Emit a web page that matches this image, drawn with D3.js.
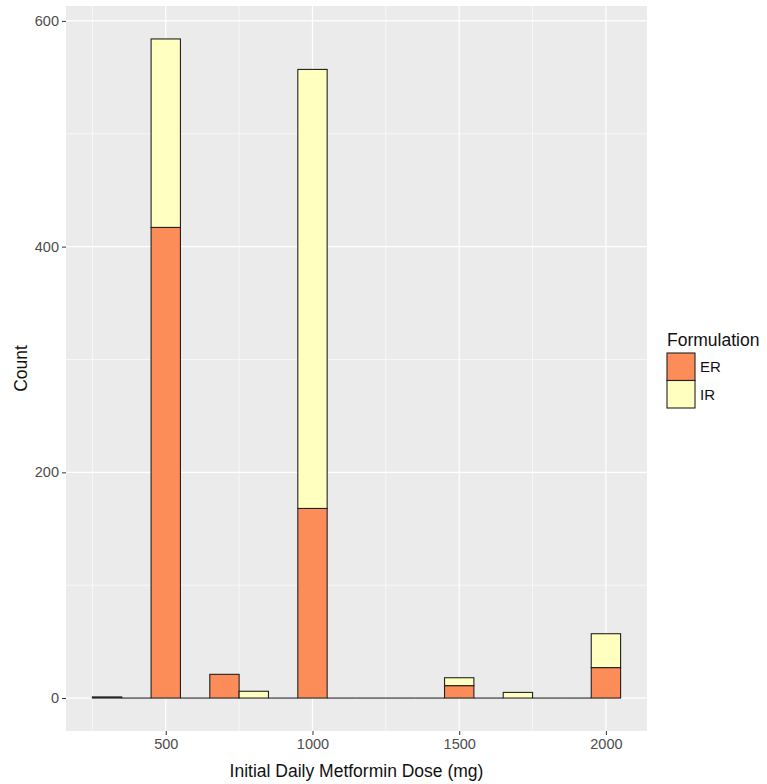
<!DOCTYPE html>
<html>
<head>
<meta charset="utf-8">
<script src="https://cdn.jsdelivr.net/npm/d3@7"></script>
<style>
  body { margin: 0; background: #fff; }
  svg { display: block; font-family: "Liberation Sans", Arial, sans-serif; }
</style>
</head>
<body>
<svg id="svg" width="767" height="784"></svg>
<script>
// histogram bins (binwidth 100 mg), counts per formulation
const binCenters = [300, 400, 500, 600, 700, 800, 900, 1000, 1100, 1200, 1300, 1400, 1500, 1600, 1700, 1800, 1900, 2000];
const erCounts   = [1, 0, 417, 0, 21, 0, 0, 168, 0, 0, 0, 0, 11, 0, 0, 0, 0, 27];
const irCounts   = [0, 0, 167, 0, 0, 6, 0, 389, 0, 0, 0, 0, 7, 0, 5, 0, 0, 30];
const formulations = ['ER', 'IR'];
const fillColors = ['#fc8d59', '#ffffbf'];
const xTicks = [500, 1000, 1500, 2000];
const xMinor = [250, 750, 1250, 1750];
const yTicks = [0, 200, 400, 600];
const yMinor = [100, 300, 500];
const binWidth = 100;

const W = 767, H = 784;
const panel = {left: 66, right: 647, top: 6, bottom: 731};

const rows = binCenters.map((c, i) => ({center: c, ER: erCounts[i], IR: irCounts[i]}));
const series = d3.stack().keys(formulations)(rows);

const xLo = binCenters[0] - binWidth / 2, xHi = binCenters[binCenters.length - 1] + binWidth / 2;
const xPad = (xHi - xLo) * 0.05;
const yMax = d3.max(rows, d => d.ER + d.IR);
const yPad = yMax * 0.05;

const x = d3.scaleLinear().domain([xLo - xPad, xHi + xPad]).range([panel.left, panel.right]);
const y = d3.scaleLinear().domain([-yPad, yMax + yPad]).range([panel.bottom, panel.top]);
const color = d3.scaleOrdinal().domain(formulations).range(fillColors);

const svg = d3.select('#svg');

// panel background + grid
svg.append('rect')
  .attr('x', panel.left).attr('y', panel.top)
  .attr('width', panel.right - panel.left).attr('height', panel.bottom - panel.top)
  .attr('fill', '#ebebeb');

const grid = svg.append('g');
grid.selectAll('.xminor').data(xMinor).enter().append('line')
  .attr('x1', d => x(d)).attr('x2', d => x(d))
  .attr('y1', panel.top).attr('y2', panel.bottom)
  .attr('stroke', '#fff').attr('stroke-width', 0.6);
grid.selectAll('.yminor').data(yMinor).enter().append('line')
  .attr('y1', d => y(d)).attr('y2', d => y(d))
  .attr('x1', panel.left).attr('x2', panel.right)
  .attr('stroke', '#fff').attr('stroke-width', 0.6);
grid.selectAll('.xmajor').data(xTicks).enter().append('line')
  .attr('x1', d => x(d)).attr('x2', d => x(d))
  .attr('y1', panel.top).attr('y2', panel.bottom)
  .attr('stroke', '#fff').attr('stroke-width', 1.2);
grid.selectAll('.ymajor').data(yTicks).enter().append('line')
  .attr('y1', d => y(d)).attr('y2', d => y(d))
  .attr('x1', panel.left).attr('x2', panel.right)
  .attr('stroke', '#fff').attr('stroke-width', 1.2);

// empty bins are drawn as flat outlines at zero (like ggplot)
svg.append('g').selectAll('line')
  .data(rows.filter(d => d.ER + d.IR === 0))
  .enter().append('line')
  .attr('x1', d => x(d.center - binWidth / 2)).attr('x2', d => x(d.center + binWidth / 2))
  .attr('y1', y(0)).attr('y2', y(0))
  .attr('stroke', '#222').attr('stroke-width', 1.1);

// stacked bars
svg.append('g').selectAll('g')
  .data(series)
  .enter().append('g')
  .attr('fill', d => color(d.key))
  .selectAll('rect')
  .data(d => d.filter(s => s[1] > s[0]))
  .enter().append('rect')
  .attr('x', d => x(d.data.center - binWidth / 2))
  .attr('width', d => x(d.data.center + binWidth / 2) - x(d.data.center - binWidth / 2))
  .attr('y', d => y(d[1]))
  .attr('height', d => y(d[0]) - y(d[1]))
  .attr('stroke', '#222')
  .attr('stroke-width', 1.1);

// axes
const xAxis = svg.append('g')
  .attr('transform', `translate(0,${panel.bottom})`)
  .call(d3.axisBottom(x).tickValues(xTicks).tickFormat(d3.format('d')).tickSize(4).tickPadding(4));
const yAxis = svg.append('g')
  .attr('transform', `translate(${panel.left},0)`)
  .call(d3.axisLeft(y).tickValues(yTicks).tickFormat(d3.format('d')).tickSize(4).tickPadding(3));
[xAxis, yAxis].forEach(a => {
  a.select('.domain').remove();
  a.selectAll('line').attr('stroke', '#333');
  a.selectAll('text').attr('fill', '#4d4d4d').style('font-size', '14.5px').style('font-family', '"Liberation Sans", Arial, sans-serif');
});

// axis titles
svg.append('text')
  .attr('x', (panel.left + panel.right) / 2).attr('y', 777)
  .attr('text-anchor', 'middle')
  .style('font-size', '17.5px').attr('fill', '#111')
  .text('Initial Daily Metformin Dose (mg)');
svg.append('text')
  .attr('transform', `translate(27,${(panel.top + panel.bottom) / 2}) rotate(-90)`)
  .attr('text-anchor', 'middle')
  .style('font-size', '17.5px').attr('fill', '#111')
  .text('Count');

// legend
const legend = svg.append('g').attr('transform', 'translate(667,353)');
legend.append('text')
  .attr('x', 0).attr('y', -7)
  .style('font-size', '17.5px').attr('fill', '#111')
  .text('Formulation');
const keys = legend.selectAll('g').data(formulations).enter().append('g')
  .attr('transform', (d, i) => `translate(0,${i * 27.5})`);
keys.append('rect')
  .attr('width', 28).attr('height', 27.5)
  .attr('fill', d => color(d))
  .attr('stroke', '#222').attr('stroke-width', 1.1);
keys.append('text')
  .attr('x', 33).attr('y', 19)
  .style('font-size', '15px').attr('fill', '#111')
  .text(d => d);
</script>
</body>
</html>
